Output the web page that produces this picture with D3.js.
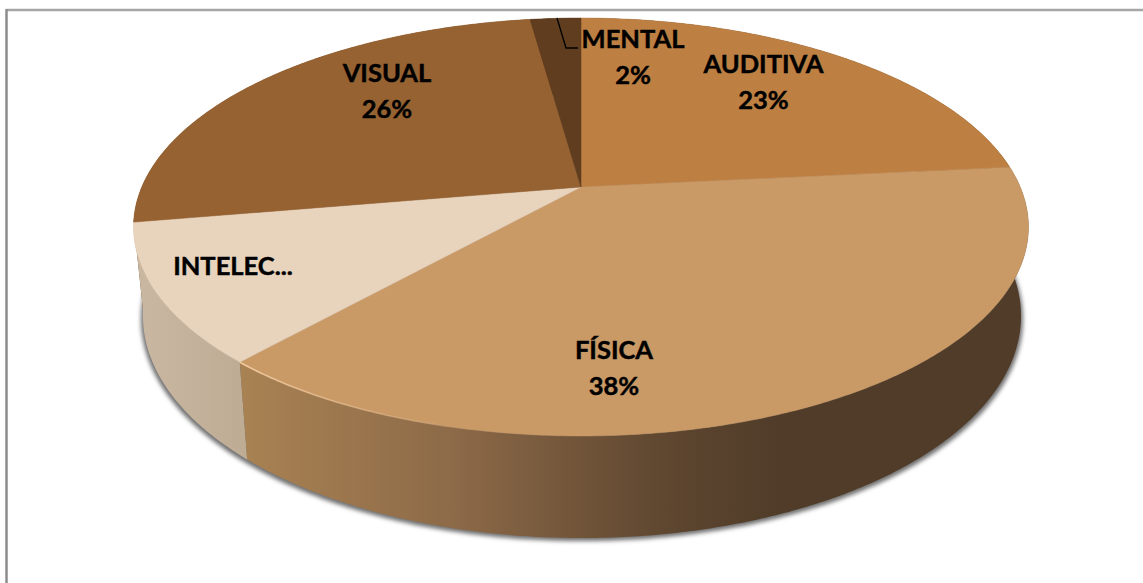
<!DOCTYPE html>
<html><head><meta charset="utf-8">
<script src="https://cdn.jsdelivr.net/npm/d3@7"></script>
<style>html,body{margin:0;padding:0;background:#fff}svg{display:block}</style>
</head><body><svg id="c" width="1143" height="583"></svg>
<script>
const categories = ["AUDITIVA","FÍSICA","INTELECTUAL","VISUAL","MENTAL"];
const values = [23.4,38.2,10.7,25.5,2.2];
const topColors = ["#BD7F42","#C99966","#E8D3BD","#966232","#5F3D1E"];
const labelLines = [["AUDITIVA","23%"],["FÍSICA","38%"],["INTELEC..."],["VISUAL","26%"],["MENTAL","2%"]];
const labelXY = [[763.5,73],[614,359],[233,275],[387,82],[633,48]];

const W=1143,H=583;
const svg=d3.select("#c");
const defs=svg.append("defs");
const blur=defs.append("filter").attr("id","sh").attr("x","-10%").attr("y","-10%").attr("width","120%").attr("height","120%");
blur.append("feGaussianBlur").attr("stdDeviation",2.2);
const blur2=defs.append("filter").attr("id","soft").attr("x","-5%").attr("y","-5%").attr("width","110%").attr("height","110%");
blur2.append("feGaussianBlur").attr("stdDeviation",0.7);

const g1=defs.append("linearGradient").attr("id","wallF").attr("gradientUnits","userSpaceOnUse").attr("x1",243).attr("x2",840).attr("y1",0).attr("y2",0);
[[0,"#A98253"],[0.35,"#8D6A48"],[0.7,"#5F4730"],[0.9,"#503C29"],[1,"#503C29"]].forEach(s=>g1.append("stop").attr("offset",s[0]).attr("stop-color",s[1]));
const g2=defs.append("linearGradient").attr("id","wallI").attr("gradientUnits","userSpaceOnUse").attr("x1",140).attr("x2",250).attr("y1",0).attr("y2",0);
[[0,"#C9B7A1"],[1,"#BDAB94"]].forEach(s=>g2.append("stop").attr("offset",s[0]).attr("stop-color",s[1]));
const g3=defs.append("linearGradient").attr("id","rimF").attr("gradientUnits","userSpaceOnUse").attr("x1",243).attr("x2",480).attr("y1",0).attr("y2",0);
[[0,"#F0C89C",1],[1,"#F0C89C",0]].forEach(s=>g3.append("stop").attr("offset",s[0]).attr("stop-color",s[1]).attr("stop-opacity",s[2]));

const k=0.1914;
const plane=(cx,y0,a,b)=>t=>{const u=Math.sin(t),v=-Math.cos(t),w=1-k*v;return [cx+a*u/w,y0+b*v/w];};
const topRim=plane(581,187,439.2,201.3);
const botRim=plane(582,273.5,430.9,213.9);

const arcs=d3.pie().sort(null).value(d=>d)(values);
const line=d3.line();
const steps=(a,b)=>{const n=Math.max(2,Math.ceil((b-a)/0.01));return d3.range(n+1).map(i=>a+(b-a)*i/n);};

// shadow under the pie
const full=steps(0,2*Math.PI);
svg.append("path").attr("d",line(full.map(t=>{const p=botRim(t);return [p[0]+(p[0]<582?-2:2),p[1]+3];}))+"Z").attr("fill","#707070").attr("filter","url(#sh)");

// walls, only the near slices show
const wallFill=["#503C29","url(#wallF)","url(#wallI)","#6b4520","#3d2713"];
const order=[3,4,0,2,1];
order.forEach(i=>{const d=arcs[i];const ts=steps(d.startAngle,d.endAngle);
  const pts=ts.map(topRim).concat(ts.slice().reverse().map(botRim));
  svg.append("path").attr("d",line(pts)+"Z").attr("fill",wallFill[i]);
});

// top face
const apex=[581,187];
arcs.forEach((d,i)=>{
  const pts=[apex].concat(steps(d.startAngle,d.endAngle).map(topRim));
  svg.append("path").attr("d",line(pts)+"Z").attr("fill",topColors[i]).attr("stroke",topColors[i]).attr("stroke-width",0.5);
});
// rim highlight
[[1,"url(#rimF)"],[2,"#FBE6CC"]].forEach(([i,c])=>{const d=arcs[i];
  svg.append("path").attr("d",line(steps(d.endAngle-(i==1?0.6:0),d.endAngle).map(topRim))).attr("fill","none").attr("stroke",c).attr("stroke-width",1.6).attr("filter","url(#soft)");
});

// leader line
svg.append("path").attr("d",line([[557,18],[566,48],[578,48]])).attr("fill","none").attr("stroke","#000").attr("stroke-width",1.3);

// labels
labelLines.forEach((ls,i)=>{
  const t=svg.append("text").attr("font-family","Lato, Carlito, sans-serif").attr("font-weight",700).attr("font-size",25.5).attr("fill","#000").attr("stroke","#000").attr("stroke-width",0.45).attr("text-anchor","middle");
  ls.forEach((s,j)=>t.append("tspan").attr("x",labelXY[i][0]).attr("y",labelXY[i][1]+j*36).text(s));
});

// frame
svg.append("path").attr("d",line([[6.5,10],[1143,10]])).attr("fill","none").attr("stroke","#a6a6a6").attr("stroke-width",2.5);
svg.append("path").attr("d",line([[6.5,9],[6.5,583]])).attr("fill","none").attr("stroke","#8c8c8c").attr("stroke-width",2.5);
</script></body></html>
